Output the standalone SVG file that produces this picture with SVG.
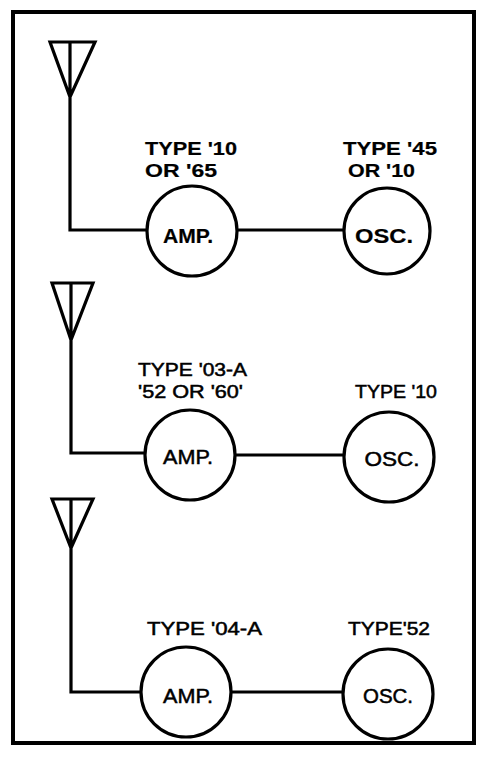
<svg xmlns="http://www.w3.org/2000/svg" width="479" height="765" viewBox="0 0 479 765">
<style>
.ln{fill:none;stroke:#000;stroke-width:3.2;stroke-linejoin:miter}
.c{fill:#fff;stroke:#000;stroke-width:3.2}
.t{font-family:"Liberation Sans",Arial,sans-serif;font-size:18px;fill:#000;stroke:#000;stroke-width:0.5}
.b{font-weight:bold;stroke-width:0.2}
.in{font-size:20px}
</style>
<rect width="479" height="765" fill="#fff"/>
<rect x="13" y="12" width="461" height="731" fill="none" stroke="#000" stroke-width="4"/>
<g id="connectors">
<path class="ln" d="M50,42 L95,42 L70,97 Z M70,42 L70,230 L147,230 M237,230 L345,230"/>
<path class="ln" d="M52,283 L93,283 L71,340 Z M71,283 L71,453 L145,453 M235,455 L343,455"/>
<path class="ln" d="M52,499 L93,499 L71,548 Z M71,499 L71,692 L141,692 M231,692 L342,692"/>
</g>
<g id="amp1"><circle class="c" cx="192" cy="231" r="45"/><text class="t b in" x="188" y="243" text-anchor="middle" textLength="50" lengthAdjust="spacingAndGlyphs">AMP.</text>
<text class="t b" x="145" y="155" textLength="92" lengthAdjust="spacingAndGlyphs">TYPE '10</text><text class="t b" x="145" y="177" textLength="72" lengthAdjust="spacingAndGlyphs">OR  '65</text></g>
<g id="osc1"><circle class="c" cx="387" cy="231" r="43"/><text class="t b in" x="384" y="243" text-anchor="middle" textLength="58" lengthAdjust="spacingAndGlyphs">OSC.</text>
<text class="t b" x="343" y="155" textLength="94" lengthAdjust="spacingAndGlyphs">TYPE '45</text><text class="t b" x="348" y="177" textLength="67" lengthAdjust="spacingAndGlyphs">OR '10</text></g>
<g id="amp2"><circle class="c" cx="190" cy="455" r="45"/><text class="t in" x="188" y="464" text-anchor="middle" textLength="50" lengthAdjust="spacingAndGlyphs">AMP.</text>
<text class="t" x="138" y="376" textLength="109" lengthAdjust="spacingAndGlyphs">TYPE '03-A</text><text class="t" x="138" y="398" textLength="105" lengthAdjust="spacingAndGlyphs">'52 OR '60'</text></g>
<g id="osc2"><circle class="c" cx="389" cy="457" r="45"/><text class="t in" x="392" y="466" text-anchor="middle" textLength="55" lengthAdjust="spacingAndGlyphs">OSC.</text>
<text class="t" x="355" y="398" textLength="82" lengthAdjust="spacingAndGlyphs">TYPE '10</text></g>
<g id="amp3"><circle class="c" cx="186" cy="692" r="45"/><text class="t in" x="188" y="703" text-anchor="middle" textLength="50" lengthAdjust="spacingAndGlyphs">AMP.</text>
<text class="t" x="147" y="635" textLength="115" lengthAdjust="spacingAndGlyphs">TYPE '04-A</text></g>
<g id="osc3"><circle class="c" cx="388" cy="694" r="45"/><text class="t in" x="388" y="703" text-anchor="middle" textLength="50" lengthAdjust="spacingAndGlyphs">OSC.</text>
<text class="t" x="348" y="635" textLength="82" lengthAdjust="spacingAndGlyphs">TYPE'52</text></g>
</svg>
